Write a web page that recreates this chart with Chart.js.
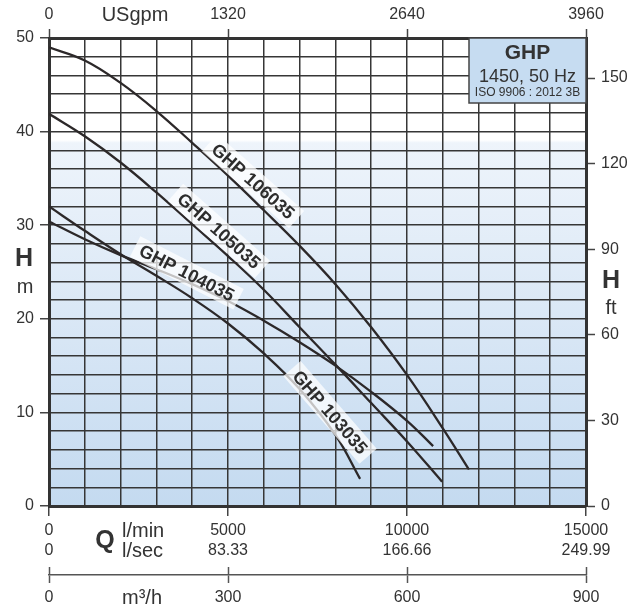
<!DOCTYPE html>
<html>
<head>
<meta charset="utf-8">
<script src="https://cdn.jsdelivr.net/npm/chart.js@4/dist/chart.umd.min.js"></script>
<style>
  html, body { margin: 0; padding: 0; background: #fff; }
  canvas { display: block; }
</style>
</head>
<body>
<canvas id="pumpChart" width="639" height="610"></canvas>
<script>
// flow in l/min, head in m
const flow106 = [0, 1000, 2000, 3000, 4000, 5000, 6000, 7000, 8000, 9000, 10000, 11000, 11730];
const head106 = [49.0, 47.6, 45.2, 42.2, 38.8, 35.3, 31.6, 27.8, 23.7, 19.1, 14.0, 8.3, 3.9];

const flow105 = [0, 1000, 2000, 3000, 4000, 5000, 6000, 7000, 8000, 9000, 10000, 10980];
const head105 = [41.9, 39.5, 36.7, 33.5, 30.1, 26.7, 23.1, 19.1, 15.1, 11.0, 6.9, 2.6];

const flow104 = [0, 1000, 2000, 3000, 4000, 5000, 6000, 7000, 8000, 9000, 10000, 10730];
const head104 = [30.4, 28.5, 26.8, 25.3, 23.7, 21.9, 19.8, 17.5, 15.0, 12.2, 9.1, 6.4];

const flow103 = [0, 1000, 2000, 3000, 4000, 5000, 6000, 7000, 8000, 8690];
const head103 = [32.0, 29.4, 26.9, 24.6, 22.2, 19.5, 16.3, 12.5, 7.6, 2.9];

const curveNames = ['GHP 106035', 'GHP 105035', 'GHP 104035', 'GHP 103035'];

// tick labels
const lminLabels = ['0', '5000', '10000', '15000'];
const lsecLabels = ['0', '83.33', '166.66', '249.99'];
const usgpmLabels = ['0', '1320', '2640', '3960'];
const m3hLabels = ['0', '300', '600', '900'];

const FONT = '"Liberation Sans", Arial, sans-serif';
const ink = '#333333';
const gridCol = '#363636';

function pairs(xs, ys) {
    return xs.map((x, i) => ({ x: x, y: ys[i] }));
}

// where the curve names sit (data coords) and their slant
const curveTags = [
    { text: curveNames[0], q: 5700, h: 34.7, angle: 41.5 },
    { text: curveNames[1], q: 4750, h: 29.4, angle: 41.5 },
    { text: curveNames[2], q: 3850, h: 24.9, angle: 27 },
    { text: curveNames[3], q: 7850, h: 10.0, angle: 49 }
];

const backdrop = {
    id: 'backdrop',
    beforeDraw(chart) {
        const { ctx, chartArea: a } = chart;
        const g = ctx.createLinearGradient(0, a.top, 0, a.bottom);
        const cut = (140 - a.top) / (a.bottom - a.top);
        g.addColorStop(0, '#ffffff');
        g.addColorStop(cut, '#ffffff');
        g.addColorStop(cut + 0.006, '#eef4fb');
        g.addColorStop(1, '#c4daf0');
        ctx.save();
        ctx.fillStyle = g;
        ctx.fillRect(a.left, a.top, a.right - a.left, a.bottom - a.top);
        ctx.restore();
    }
};

const tags = {
    id: 'tags',
    afterDatasetsDraw(chart) {
        const { ctx, scales } = chart;
        ctx.save();
        ctx.font = 'bold 18px ' + FONT;
        curveTags.forEach(t => {
            const px = scales.x.getPixelForValue(t.q);
            const py = scales.y.getPixelForValue(t.h);
            const w = ctx.measureText(t.text).width;
            ctx.save();
            ctx.translate(px, py);
            ctx.rotate(t.angle * Math.PI / 180);
            ctx.fillStyle = 'rgba(255,255,255,0.72)';
            ctx.fillRect(-w / 2 - 6, -11.5, w + 12, 23);
            ctx.fillStyle = '#2d2d2d';
            ctx.textAlign = 'center';
            ctx.textBaseline = 'middle';
            ctx.fillText(t.text, 0, 1);
            ctx.restore();
        });
        ctx.restore();
    }
};

const extras = {
    id: 'extras',
    afterDraw(chart) {
        const { ctx, chartArea: a, scales } = chart;
        ctx.save();

        // upper half of the m3/h ticks
        const m3 = scales.xM3;
        ctx.strokeStyle = '#555';
        ctx.lineWidth = 1.5;
        m3.ticks.forEach(t => {
            const x = Math.round(m3.getPixelForValue(t.value)) + 0.5;
            ctx.beginPath();
            ctx.moveTo(x, m3.top - 8);
            ctx.lineTo(x, m3.top);
            ctx.stroke();
        });

        // info box
        const bx = a.right - 117, by = a.top, bw = 117, bh = 65;
        ctx.fillStyle = '#c6dcf1';
        ctx.fillRect(bx, by, bw, bh);
        ctx.strokeStyle = '#444';
        ctx.lineWidth = 1.5;
        ctx.strokeRect(bx, by, bw, bh);
        ctx.fillStyle = ink;
        ctx.textAlign = 'center';
        ctx.textBaseline = 'middle';
        ctx.font = 'bold 21px ' + FONT;
        ctx.fillText('GHP', bx + bw / 2, by + 15);
        ctx.font = '18px ' + FONT;
        ctx.fillText('1450, 50 Hz', bx + bw / 2, by + 39);
        ctx.font = '12px ' + FONT;
        ctx.fillText('ISO 9906 : 2012 3B', bx + bw / 2, by + 55);

        // axis titles
        ctx.font = '20px ' + FONT;
        ctx.fillText('USgpm', 135, 15);
        ctx.font = 'bold 25px ' + FONT;
        ctx.fillText('H', 24, 259);
        ctx.fillText('H', 611, 281);
        ctx.fillText('Q', 105, 541);
        ctx.font = '20px ' + FONT;
        ctx.fillText('m', 25, 287);
        ctx.fillText('ft', 611, 308);
        ctx.textAlign = 'left';
        ctx.fillText('l/min', 122, 531);
        ctx.fillText('l/sec', 122, 551);
        ctx.fillText('m\u00b3/h', 122, 598);
        ctx.restore();
    }
};

const tickFont = { family: FONT, size: 16, lineHeight: 1.25 };
const majorTick = (step, col) => ctx => (ctx.tick && ctx.tick.value % step === 0) ? col : 'rgba(0,0,0,0)';

new Chart(document.getElementById('pumpChart'), {
    type: 'line',
    data: {
        datasets: [
            { label: curveNames[0], data: pairs(flow106, head106) },
            { label: curveNames[1], data: pairs(flow105, head105) },
            { label: curveNames[2], data: pairs(flow104, head104) },
            { label: curveNames[3], data: pairs(flow103, head103) }
        ].map(d => Object.assign(d, {
            borderColor: '#2c2829',
            borderWidth: 2.3,
            pointRadius: 0,
            fill: false,
            tension: 0.4,
            xAxisID: 'x',
            yAxisID: 'y'
        }))
    },
    options: {
        responsive: false,
        animation: false,
        devicePixelRatio: 1,
        layout: { padding: 0 },
        plugins: { legend: { display: false }, tooltip: { enabled: false } },
        scales: {
            x: {
                type: 'linear',
                position: 'bottom',
                min: 0, max: 15000,
                ticks: {
                    stepSize: 1000,
                    autoSkip: false,
                    maxRotation: 0,
                    padding: 5,
                    color: ink,
                    font: tickFont,
                    callback: v => v % 5000 === 0 ? [lminLabels[v / 5000], lsecLabels[v / 5000]] : ''
                },
                grid: { color: gridCol, lineWidth: 1.5, tickLength: 10, tickColor: majorTick(5000, '#444'), tickWidth: 1.5 },
                border: { color: '#333', width: 3 },
                afterFit: s => { s.height = 69; }
            },
            xM3: {
                type: 'linear',
                position: 'bottom',
                min: 0, max: 900,
                ticks: {
                    stepSize: 300,
                    maxRotation: 0,
                    padding: 5,
                    color: ink,
                    font: tickFont,
                    callback: v => m3hLabels[v / 300]
                },
                grid: { drawOnChartArea: false, tickLength: 8, tickColor: '#555', tickWidth: 1.5 },
                border: { color: '#555', width: 1.5 },
                afterFit: s => { s.height = 35; }
            },
            xTop: {
                type: 'linear',
                position: 'top',
                min: 0, max: 3960,
                ticks: {
                    stepSize: 1320,
                    includeBounds: false,
                    maxRotation: 0,
                    padding: 4,
                    color: ink,
                    font: tickFont,
                    callback: v => usgpmLabels[Math.round(v / 1320)]
                },
                grid: { drawOnChartArea: false, tickLength: 9, tickColor: '#444', tickWidth: 1.5 },
                border: { color: '#333', width: 3 },
                afterFit: s => { s.height = 38; }
            },
            y: {
                type: 'linear',
                position: 'left',
                min: 0, max: 50,
                ticks: {
                    stepSize: 2,
                    autoSkip: false,
                    padding: 6,
                    color: ink,
                    font: tickFont,
                    callback: v => v % 10 === 0 ? String(v) : ''
                },
                grid: { color: gridCol, lineWidth: 1.5, tickLength: 9, tickColor: majorTick(10, '#444'), tickWidth: 1.5 },
                border: { color: '#333', width: 3 },
                afterFit: s => { s.width = 49; }
            },
            yFt: {
                type: 'linear',
                position: 'right',
                min: 0, max: 50 * 3.28084,
                ticks: {
                    stepSize: 30,
                    includeBounds: false,
                    padding: 6,
                    color: ink,
                    font: tickFont
                },
                grid: { drawOnChartArea: false, tickLength: 9, tickColor: '#444', tickWidth: 1.5 },
                border: { color: '#333', width: 3 },
                afterFit: s => { s.width = 53; }
            }
        }
    },
    plugins: [backdrop, tags, extras]
});
</script>
</body>
</html>
